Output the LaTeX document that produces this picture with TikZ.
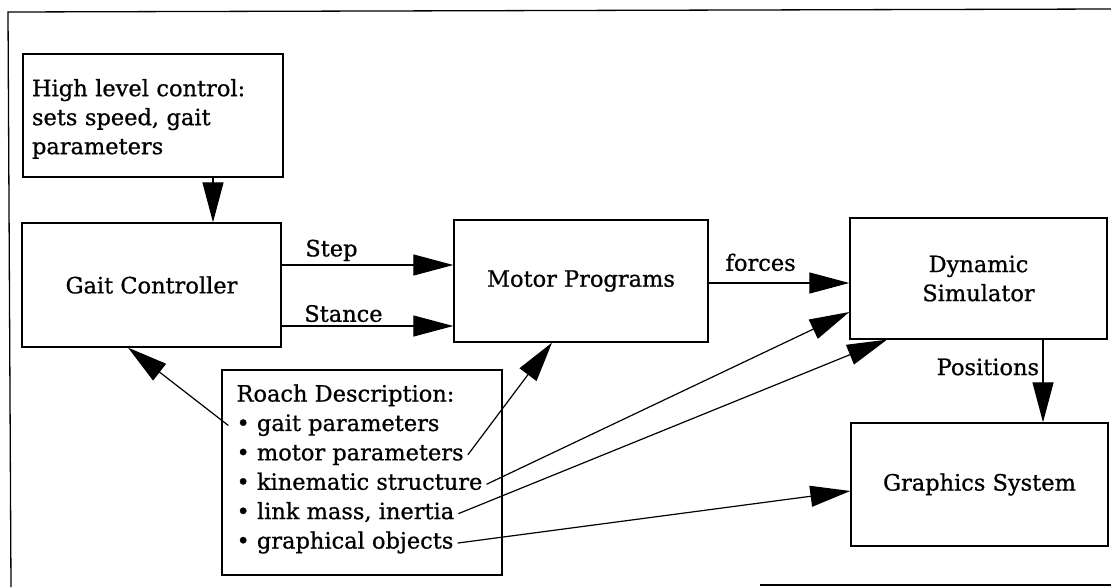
\documentclass[tikz,border=0pt]{standalone}
\usepackage{fontspec}
\setmainfont{DejaVu Serif}[FakeBold=0.8]
\usetikzlibrary{arrows.meta,positioning}

\begin{document}
\begin{tikzpicture}[x=1pt, y=-1pt,
    every node/.style={font=\fontsize{22.5}{29}\selectfont},
    block/.style={draw, line width=1.3pt, inner sep=0pt},
    item/.style={inner sep=0pt, text height=20pt, text depth=9pt},
    arr/.style={line width=1.2pt, -{Triangle[length=40pt, width=21pt]}}]
    \useasboundingbox (0,0) rectangle (1111,587);
    %% page frame
    \draw[line width=1.3pt] (11,587) -- (8,12) -- (1111,9);
    \draw[line width=1.3pt] (760,585) -- (1111,585);
    %% blocks
    \node[block, minimum width=260pt, minimum height=123pt, text width=242pt, align=left] (hlc) at (153,115.5) {\rule{0pt}{24pt}High level control:\\sets speed, gait\\parameters};
    \node[block, minimum width=259pt, minimum height=124pt] (gait) at (151.5,285) {Gait Controller};
    \node[block, minimum width=254pt, minimum height=122pt] (motor) at (581,281) {Motor Programs};
    \node[block, minimum width=257pt, minimum height=121pt, align=center] (dyn) at (978.5,278.5) {Dynamic\\Simulator};
    \node[block, minimum width=257pt, minimum height=123pt] (gfx) at (979.5,484.5) {Graphics System};
    %% roach description
    \node[block, minimum width=280pt, minimum height=205pt] (roach) at (362,472.5) {};
    \node[item, anchor=north west] (rtitle) at ([xshift=15pt, yshift=-12pt]roach.north west) {Roach Description:};
    \node[item, below=0pt of rtitle.south west, anchor=north west] (rgait) {\textbullet{} gait parameters};
    \node[item, below=0pt of rgait.south west, anchor=north west] (rmot) {\textbullet{} motor parameters};
    \node[item, below=0pt of rmot.south west, anchor=north west] (rkin) {\textbullet{} kinematic structure};
    \node[item, below=0pt of rkin.south west, anchor=north west] (rlink) {\textbullet{} link mass, inertia};
    \node[item, below=0pt of rlink.south west, anchor=north west] (rgraph) {\textbullet{} graphical objects};
    %% connectors
    \draw[arr] ([xshift=60pt]hlc.south) -- ([xshift=60pt]hlc.south |- gait.north);
    \draw[arr] ([yshift=20pt]gait.east) -- ([yshift=20pt]gait.east -| motor.west) node[pos=0.29, above] (lstep) {Step};
    \draw[arr] ([yshift=-41pt]gait.east) -- ([yshift=-41pt]gait.east -| motor.west) node[pos=0.36, above] (lstance) {Stance};
    \draw[arr] ([yshift=-2pt]motor.east) -- ([yshift=-2pt]motor.east -| dyn.west) node[pos=0.37, above=8pt] (lforces) {forces};
    \draw[arr] ([xshift=64.5pt]dyn.south) -- ([xshift=64.5pt]dyn.south |- gfx.north) node[pos=0.33, left] (lpos) {Positions};
    %%
    \draw[arr] ([xshift=-8pt]rgait.west) -- ([xshift=-23.5pt]gait.south);
    \draw[arr] ([xshift=4pt]rmot.east) -- ([xshift=-29pt]motor.south);
    \draw[arr] ([xshift=4pt]rkin.east) -- ([yshift=-33.5pt]dyn.west);
    \draw[arr] ([xshift=4pt]rlink.east) -- ([xshift=-91.5pt]dyn.south);
    \draw[arr] ([xshift=4pt]rgraph.east) -- ([yshift=-6.5pt]gfx.west);
\end{tikzpicture}
\end{document}
